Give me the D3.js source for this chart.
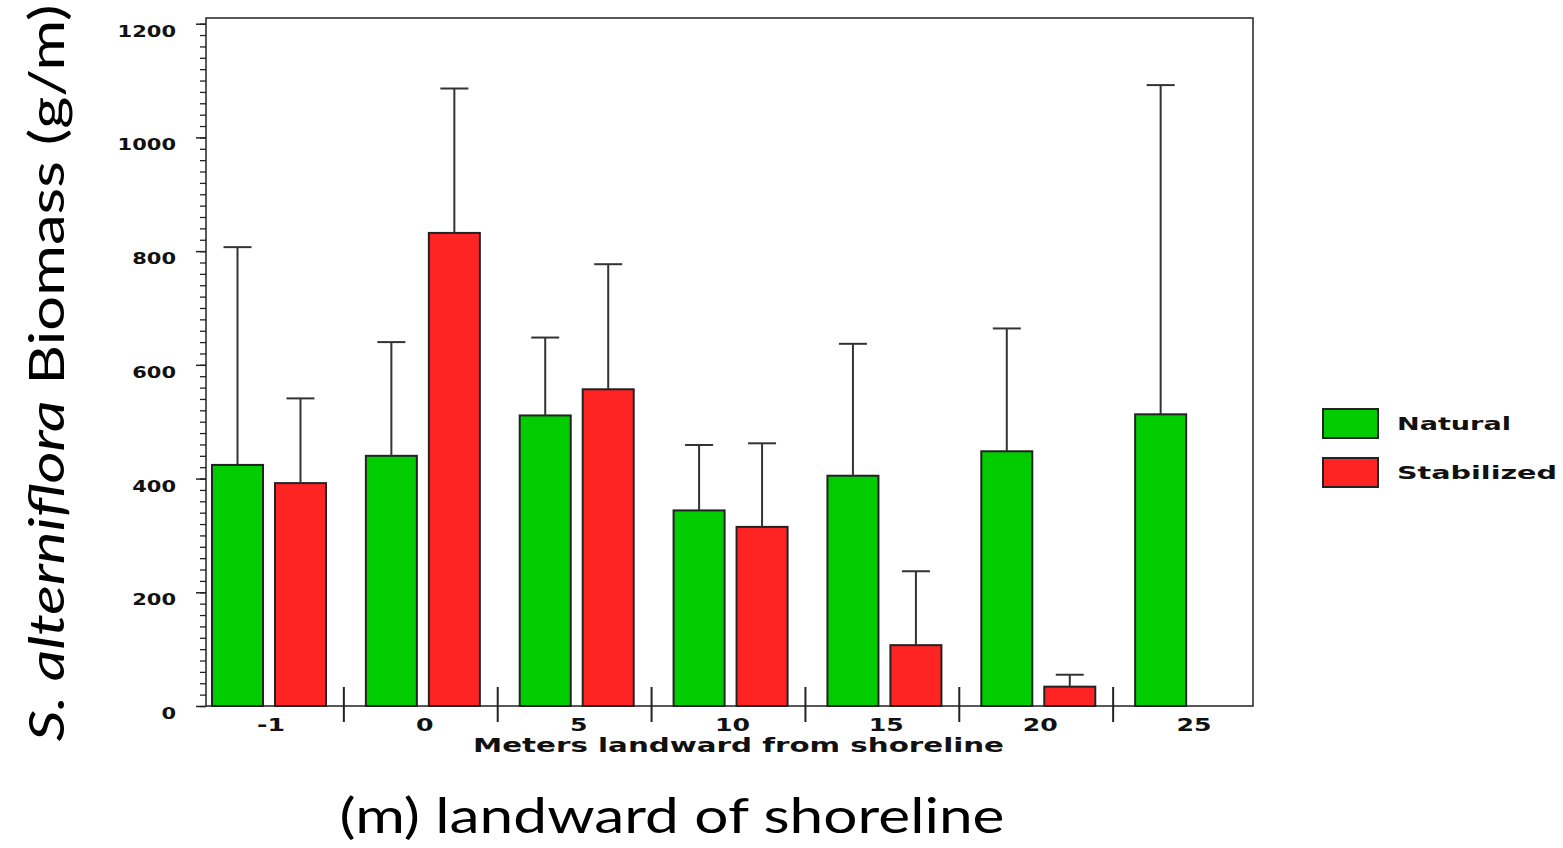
<!DOCTYPE html>
<html>
<head>
<meta charset="utf-8">
<script src="https://cdn.jsdelivr.net/npm/d3@7"></script>
<style>
  body { margin: 0; background: #fff; }
  svg { display: block; }
</style>
</head>
<body>
<div id="chart"></div>
<script>
// data
const categories = ["-1", "0", "5", "10", "15", "20", "25"];
const series = ["Natural", "Stabilized"];
const naturalMean = [424, 440, 511, 344, 405, 448, 513];
const naturalUpper = [807, 640, 648, 459, 637, 664, 1092];
const stabilizedMean = [392, 832, 557, 315, 107, 34, null];
const stabilizedUpper = [541, 1086, 777, 462, 237, 55, null];
const yTicks = [0, 200, 400, 600, 800, 1000, 1200];
const colors = { Natural: "#00cc00", Stabilized: "#ff2424" };

const w = 1563;
const h = 848;
const plotL = 206, plotR = 1253, plotT = 18, plotB = 706;
const stretch = 1.4; // the old chart text is stretched sideways

const rows = [];
categories.forEach((c, i) => {
    rows.push({ cat: c, s: "Natural", mean: naturalMean[i], upper: naturalUpper[i] });
    if (stabilizedMean[i] != null)
        rows.push({ cat: c, s: "Stabilized", mean: stabilizedMean[i], upper: stabilizedUpper[i] });
});

const svg = d3.select("#chart")
    .append("svg")
    .attr("width", w)
    .attr("height", h);

// scales
const x0 = d3.scaleBand().domain(categories).range([190, 1267]);
const x1 = d3.scaleBand().domain(series).range([22, 136]).paddingInner(0.19);
const y = d3.scaleLinear().domain([0, 1210]).range([plotB, plotT]);

// minor ticks
svg.append("g")
    .attr("transform", `translate(${plotL}, 0)`)
    .call(d3.axisLeft(y).tickValues(d3.range(0, 1201, 20)).tickSize(6).tickFormat(""))
    .call(g => g.select(".domain").remove())
    .call(g => g.selectAll("line").attr("stroke", "#222").attr("stroke-width", 1.3));

// major ticks + labels
svg.append("g")
    .attr("id", "y-axis")
    .attr("transform", `translate(${plotL}, 0)`)
    .call(d3.axisLeft(y).tickValues(yTicks).tickSize(10).tickFormat(d3.format("d")))
    .call(g => g.select(".domain").remove())
    .call(g => g.selectAll("line").attr("stroke", "#222").attr("stroke-width", 1.5))
    .call(g => g.selectAll("text")
        .attr("font-family", "DejaVu Sans")
        .attr("font-weight", "bold")
        .attr("font-size", 15)
        .attr("fill", "#111")
        .attr("dy", 0)
        .attr("y", 12.5)
        .attr("x", -30 / stretch)
        .attr("transform", `scale(${stretch}, 1)`));

// frame
svg.append("rect")
    .attr("x", plotL)
    .attr("y", plotT)
    .attr("width", plotR - plotL)
    .attr("height", plotB - plotT)
    .attr("fill", "none")
    .attr("stroke", "#222")
    .attr("stroke-width", 1.5);

// bars
svg.append("g")
    .selectAll("rect")
    .data(rows)
    .enter()
    .append("rect")
    .attr("x", d => x0(d.cat) + x1(d.s))
    .attr("y", d => y(d.mean))
    .attr("width", x1.bandwidth())
    .attr("height", d => y(0) - y(d.mean))
    .attr("fill", d => colors[d.s])
    .attr("stroke", "#222")
    .attr("stroke-width", 2);

// error bars
const err = svg.append("g")
    .attr("stroke", "#333")
    .attr("stroke-width", 2);

err.selectAll(".stem")
    .data(rows)
    .enter()
    .append("line")
    .attr("class", "stem")
    .attr("x1", d => x0(d.cat) + x1(d.s) + x1.bandwidth() / 2)
    .attr("x2", d => x0(d.cat) + x1(d.s) + x1.bandwidth() / 2)
    .attr("y1", d => y(d.mean))
    .attr("y2", d => y(d.upper));

err.selectAll(".cap")
    .data(rows)
    .enter()
    .append("line")
    .attr("class", "cap")
    .attr("x1", d => x0(d.cat) + x1(d.s) + x1.bandwidth() / 2 - 14)
    .attr("x2", d => x0(d.cat) + x1(d.s) + x1.bandwidth() / 2 + 14)
    .attr("y1", d => y(d.upper))
    .attr("y2", d => y(d.upper));

// x axis
svg.append("g")
    .attr("id", "x-axis")
    .attr("transform", `translate(4, ${plotB})`)
    .call(d3.axisBottom(x0).tickSize(0))
    .call(g => g.select(".domain").remove())
    .call(g => g.selectAll("text")
        .attr("font-family", "DejaVu Sans")
        .attr("font-weight", "bold")
        .attr("font-size", 18)
        .attr("fill", "#111")
        .attr("dy", 0)
        .attr("y", 25)
        .attr("transform", `scale(${stretch}, 1)`));

// group separators
svg.append("g")
    .selectAll("line")
    .data(categories.slice(1))
    .enter()
    .append("line")
    .attr("x1", d => x0(d))
    .attr("x2", d => x0(d))
    .attr("y1", plotB - 19)
    .attr("y2", plotB + 16)
    .attr("stroke", "#222")
    .attr("stroke-width", 2);

svg.append("text")
    .text("Meters landward from shoreline")
    .attr("x", 473)
    .attr("y", 752)
    .attr("font-family", "DejaVu Sans")
    .attr("font-weight", "bold")
    .attr("font-size", 19)
    .attr("fill", "#111")
    .attr("textLength", 531)
    .attr("lengthAdjust", "spacingAndGlyphs");

// legend
const legend = svg.append("g").attr("id", "legend");
const legendTextW = { Natural: 114, Stabilized: 160 };

series.forEach((s, i) => {
    legend.append("rect")
        .attr("x", 1323)
        .attr("y", 409 + i * 49)
        .attr("width", 55)
        .attr("height", 29)
        .attr("fill", colors[s])
        .attr("stroke", "#222")
        .attr("stroke-width", 2);

    legend.append("text")
        .text(s)
        .attr("x", 1397)
        .attr("y", 430 + i * 49)
        .attr("font-family", "DejaVu Sans")
        .attr("font-weight", "bold")
        .attr("font-size", 18)
        .attr("fill", "#111")
        .attr("textLength", legendTextW[s])
        .attr("lengthAdjust", "spacingAndGlyphs");
});

// big titles
const yTitle = svg.append("text")
    .attr("transform", "translate(64, 373) rotate(-90)")
    .attr("text-anchor", "middle")
    .attr("font-family", "Lato")
    .attr("font-size", 48)
    .attr("fill", "#000")
    .attr("textLength", 737)
    .attr("lengthAdjust", "spacingAndGlyphs");

yTitle.append("tspan").attr("font-style", "italic").text("S. alterniflora");
yTitle.append("tspan").text(" Biomass (g/m)");

svg.append("text")
    .text("(m) landward of shoreline")
    .attr("x", 672)
    .attr("y", 833)
    .attr("text-anchor", "middle")
    .attr("font-family", "Lato")
    .attr("font-size", 48)
    .attr("fill", "#000")
    .attr("textLength", 665)
    .attr("lengthAdjust", "spacingAndGlyphs");
</script>
</body>
</html>
